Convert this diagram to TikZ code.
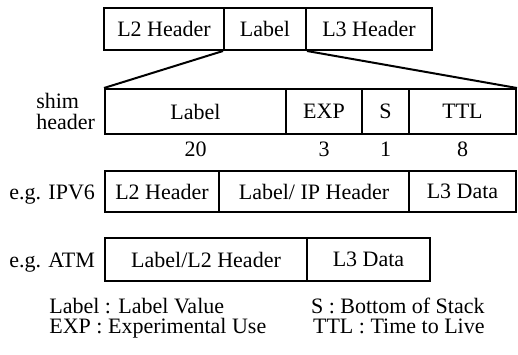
\documentclass[tikz,border=0pt]{standalone}
\usepackage{fontspec}
\setmainfont{Liberation Serif}
\usetikzlibrary{positioning}
\begin{document}
\begin{tikzpicture}[x=0.5pt,y=-0.5pt,
  every node/.style={font=\fontsize{11}{13}\selectfont},
  field/.style={draw,line width=1pt,inner sep=0pt,minimum height=21pt}]
  \useasboundingbox (0,0) rectangle (518,354);
  % packet with label
  \node (l2) at (164,29) [field,minimum width=60pt] {L2 Header};
  \node (lbl) at (265,29) [field,minimum width=41pt] {Label};
  \node (l3) at (369,29) [field,minimum width=63pt] {L3 Header};
  % shim header
  \node (slbl) at (195.5,111.5) [field,minimum width=90.5pt,minimum height=22.5pt] {Label};
  \node (sexp) at (324,111.5) [field,minimum width=38pt,minimum height=22.5pt] {EXP};
  \node (ss) at (385.5,111.5) [field,minimum width=23.5pt,minimum height=22.5pt] {S};
  \node (sttl) at (462.5,111.5) [field,minimum width=53.5pt,minimum height=22.5pt] {TTL};
  \node (shim) [left=1pt of slbl,align=left,font=\fontsize{11}{10.5}\selectfont] {shim\\header};
  \node (n20) [below=0pt of slbl] {20};
  \node (n3) [below=0pt of sexp] {3};
  \node (n1) [below=0pt of ss] {1};
  \node (n8) [below=0pt of sttl] {8};
  \draw[line width=1pt] (lbl.south west) -- (slbl.north west);
  \draw[line width=1pt] (lbl.south east) -- (sttl.north east);
  % IPv6
  \node (v6l2) at (162,191.5) [field,minimum width=57pt,minimum height=20.5pt] {L2 Header};
  \node (v6lbl) at (314,191.5) [field,minimum width=95pt,minimum height=20.5pt] {Label/ IP Header};
  \node (v6l3) at (462.5,191.5) [field,minimum width=53.5pt,minimum height=20.5pt] {L3 Data};
  \node (v6) [base left=1pt of v6l2.base west] {e.g. IPV6};
  % ATM
  \node (atmlbl) at (206,259.5) [field,minimum width=101pt,minimum height=21.5pt] {Label/L2 Header};
  \node (atml3) at (368.5,259.5) [field,minimum width=61.5pt,minimum height=21.5pt] {L3 Data};
  \node (atm) [base left=1pt of atmlbl.base west] {e.g. ATM};
  % legend
  \node (keyl) at (49,298) [anchor=north west,align=left,inner sep=0pt,font=\fontsize{11}{10}\selectfont] {Label : Label Value\\EXP : Experimental Use};
  \node (keyr) at (485,298) [anchor=north east,align=right,inner sep=0pt,font=\fontsize{11}{10}\selectfont] {S : Bottom of Stack\\TTL : Time to Live};
\end{tikzpicture}
\end{document}
